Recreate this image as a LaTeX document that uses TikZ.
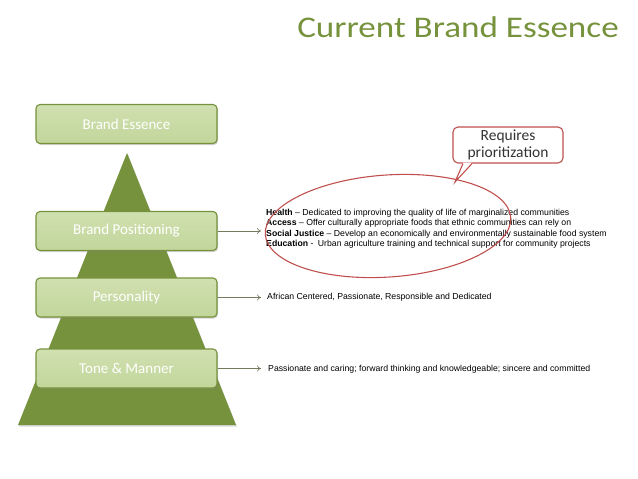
\documentclass[tikz,border=0pt]{standalone}
\usepackage{fontspec}
\setmainfont{Carlito}
\newfontfamily\arialfont{Liberation Sans}
\usetikzlibrary{arrows.meta,positioning,calc,shapes.geometric,shadows}
\definecolor{brandgreen}{RGB}{118,146,60}
\definecolor{brandlight}{RGB}{194,214,155}
\definecolor{brandpale}{RGB}{208,224,176}
\definecolor{brandred}{RGB}{192,80,77}
\definecolor{arrowgray}{RGB}{112,124,92}
\tikzset{
  levelbox/.style={
    rectangle,
    draw=brandgreen,
    top color=brandpale,
    bottom color=brandlight,
    line width=1.1pt,
    rounded corners=4pt,
    minimum width=181pt,
    minimum height=39pt,
    text=white,
    font=\fontsize{15}{17}\selectfont,
    drop shadow={shadow xshift=1pt,shadow yshift=-1.5pt,opacity=0.35}
  },
  leveltext/.style={
    anchor=west,
    inner sep=0pt,
    align=left,
    font=\arialfont\fontsize{8.7}{10.5}\selectfont
  },
  levelarrow/.style={
    -{To[length=4pt,width=6pt]},
    line width=0.6pt,
    draw=arrowgray
  },
  redline/.style={
    draw=brandred,
    line width=1.1pt
  }
}

\begin{document}
\begin{tikzpicture}[x=1pt,y=-1pt]
  \useasboundingbox (0,0) rectangle (638,479);

  \node[text=brandgreen,font=\fontsize{30}{32}\selectfont,xscale=1.17,transform shape] (title) at (458,27) {Current Brand Essence};

  % pyramid behind the level boxes
  \coordinate (apex) at (127,153);
  \coordinate (baseleft) at (18,425);
  \coordinate (baseright) at (236,425);
  \fill[brandgreen,drop shadow={shadow xshift=1pt,shadow yshift=-1.5pt,opacity=0.3}]
    (apex) -- (baseright) -- (baseleft) -- cycle;

  \node[levelbox] (essence) at (126.5,124) {Brand Essence};
  \node[levelbox] (positioning) at (126.5,231) {Brand Positioning};
  \node[levelbox] (personality) at (126.5,297.5) {Personality};
  \node[levelbox] (tone) at (126.5,368.5) {Tone \& Manner};

  \node[leveltext] (pillars) at (266,228.5)
    {\textbf{Health} – Dedicated to improving the quality of life of marginalized communities\\
     \textbf{Access} – Offer culturally appropriate foods that ethnic communities can rely on\\
     \textbf{Social Justice} – Develop an economically and environmentally sustainable food system\\
     \textbf{Education} -\enspace Urban agriculture training and technical support for community projects};
  \node[leveltext] (traits) at (267,297.5)
    {African Centered, Passionate, Responsible and Dedicated};
  \node[leveltext] (voice) at (268,369.5)
    {Passionate and caring; forward thinking and knowledgeable; sincere and committed};

  \draw[levelarrow] (positioning.east) -- ([xshift=-5pt]positioning.east -| pillars.west);
  \draw[levelarrow] (personality.east) -- ([xshift=-6pt]personality.east -| traits.west);
  \draw[levelarrow] (tone.east) -- ([xshift=-7pt]tone.east -| voice.west);

  % red highlight round the pillars and its callout
  \node[ellipse,redline,minimum width=246pt,minimum height=102pt,rotate=4] (focus) at (388,226) {};
  \node[rectangle,redline,fill=white,rounded corners=5pt,minimum width=110pt,minimum height=36pt,
    inner sep=1pt,align=center,text=black!80,font=\fontsize{15.5}{17.5}\selectfont] (callout) at (508,145)
    {Requires\\prioritization};
  \coordinate (callouttip) at (455,182);
  \coordinate (calloutleft) at ($(callout.south)+(-45,0)$);
  \coordinate (calloutright) at ($(callout.south)+(-36,0)$);
  \fill[white] ([yshift=1pt]calloutleft) -- (callouttip) -- ([yshift=1pt]calloutright) -- cycle;
  \draw[redline] (calloutleft) -- (callouttip) -- (calloutright);
\end{tikzpicture}
\end{document}
